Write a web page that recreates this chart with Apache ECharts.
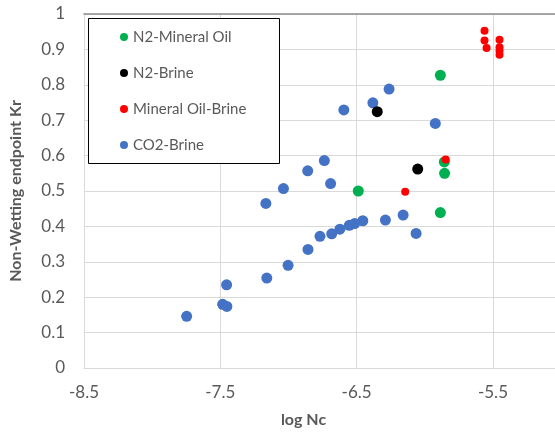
<!DOCTYPE html>
<html>
<head>
<meta charset="utf-8">
<script src="https://cdn.jsdelivr.net/npm/echarts@6/dist/echarts.min.js"></script>
<style>
html,body{margin:0;padding:0;background:#fff;}
#c{width:555px;height:434px;}
</style>
</head>
<body>
<div id="c"></div>
<script>
// Data
var seriesNames = ["N2-Mineral Oil", "N2-Brine", "Mineral Oil-Brine", "CO2-Brine"];

var n2MineralOilX = [-5.886, -6.488, -5.857, -5.855, -5.886];
var n2MineralOilY = [0.827, 0.500, 0.582, 0.550, 0.439];

var n2BrineX = [-6.349, -6.052];
var n2BrineY = [0.724, 0.562];

var mineralOilBrineX = [-5.562, -5.562, -5.547, -5.452, -5.452, -5.452, -5.452, -5.847, -6.144];
var mineralOilBrineY = [0.953, 0.925, 0.904, 0.927, 0.906, 0.896, 0.885, 0.589, 0.498];

var co2BrineX = [-7.747, -7.454, -7.483, -7.452, -7.159, -7.003, -6.857, -6.769, -6.683, -6.623,
                 -6.554, -6.515, -6.455, -6.289, -6.159, -6.064, -7.166, -7.037, -6.691, -6.859,
                 -6.737, -5.923, -6.594, -6.381, -6.262];
var co2BrineY = [0.146, 0.235, 0.180, 0.174, 0.254, 0.290, 0.335, 0.372, 0.379, 0.392,
                 0.403, 0.408, 0.416, 0.418, 0.432, 0.380, 0.465, 0.507, 0.521, 0.557,
                 0.586, 0.691, 0.729, 0.749, 0.788];

var xTicks = [-8.5, -7.5, -6.5, -5.5];
var yTicks = [0, 0.1, 0.2, 0.3, 0.4, 0.5, 0.6, 0.7, 0.8, 0.9, 1];

function pairs(xs, ys) { return xs.map(function (x, i) { return [x, ys[i]]; }); }

var font = "Lato, 'Open Sans', sans-serif";
var chart = echarts.init(document.getElementById('c'), null, {renderer: 'canvas'});
chart.setOption({
  animation: false,
  backgroundColor: '#ffffff',
  grid: {left: 83, right: 0, top: 14, bottom: 66},
  graphic: [{
    type: 'rect', left: 88, top: 18, z: 100,
    shape: {width: 191, height: 145},
    style: {fill: '#ffffff', stroke: '#000000', lineWidth: 1}
  }],
  legend: {
    data: seriesNames,
    orient: 'vertical', left: 120, top: 29, padding: 0, z: 101,
    itemWidth: 8, itemHeight: 8, itemGap: 20, icon: 'circle',
    textStyle: {fontFamily: font, fontSize: 15, color: '#595959', lineHeight: 16}
  },
  xAxis: [{
    type: 'value', min: -8.5, max: -5.045, interval: 1,
    name: 'log Nc', nameLocation: 'middle', nameGap: 44,
    nameTextStyle: {fontFamily: font, fontSize: 16, fontWeight: 'bold', color: '#595959', padding: [0, 32, 0, 0]},
    axisLine: {show: true, lineStyle: {color: '#d9d9d9'}},
    axisTick: {show: false},
    axisLabel: {fontFamily: font, fontSize: 17, color: '#595959', margin: 16, showMaxLabel: false,
      formatter: function (v) { return xTicks.indexOf(v) >= 0 ? String(v) : ''; }},
    splitLine: {show: true, lineStyle: {color: '#d9d9d9'}}
  }, {
    type: 'value', position: 'top', min: -8.5, max: -5.045,
    axisLine: {show: true, lineStyle: {color: '#8c8c8c', width: 1.5}},
    axisTick: {show: false}, axisLabel: {show: false}, splitLine: {show: false}
  }],
  yAxis: {
    type: 'value', min: 0, max: 1, interval: 0.1,
    name: 'Non-Wetting endpoint Kr', nameLocation: 'middle', nameGap: 60,
    nameTextStyle: {fontFamily: font, fontSize: 16, fontWeight: 'bold', color: '#595959'},
    axisLine: {show: true, lineStyle: {color: '#d9d9d9'}},
    axisTick: {show: false},
    axisLabel: {fontFamily: font, fontSize: 17, color: '#595959', margin: 19,
      formatter: function (v) { var r = Math.round(v * 10) / 10; return yTicks.indexOf(r) >= 0 ? String(r) : ''; }},
    splitLine: {show: true, lineStyle: {color: '#d9d9d9'}}
  },
  series: [
    {name: 'CO2-Brine', type: 'scatter', symbolSize: 11, itemStyle: {color: '#4472C4', opacity: 1}, data: pairs(co2BrineX, co2BrineY), z: 2},
    {name: 'N2-Mineral Oil', type: 'scatter', symbolSize: 11, itemStyle: {color: '#00B050', opacity: 1}, data: pairs(n2MineralOilX, n2MineralOilY), z: 3},
    {name: 'N2-Brine', type: 'scatter', symbolSize: 11, itemStyle: {color: '#000000', opacity: 1}, data: pairs(n2BrineX, n2BrineY), z: 4},
    {name: 'Mineral Oil-Brine', type: 'scatter', symbolSize: 8, itemStyle: {color: '#FF0000', opacity: 1}, data: pairs(mineralOilBrineX, mineralOilBrineY), z: 5}
  ]
});
</script>
</body>
</html>
